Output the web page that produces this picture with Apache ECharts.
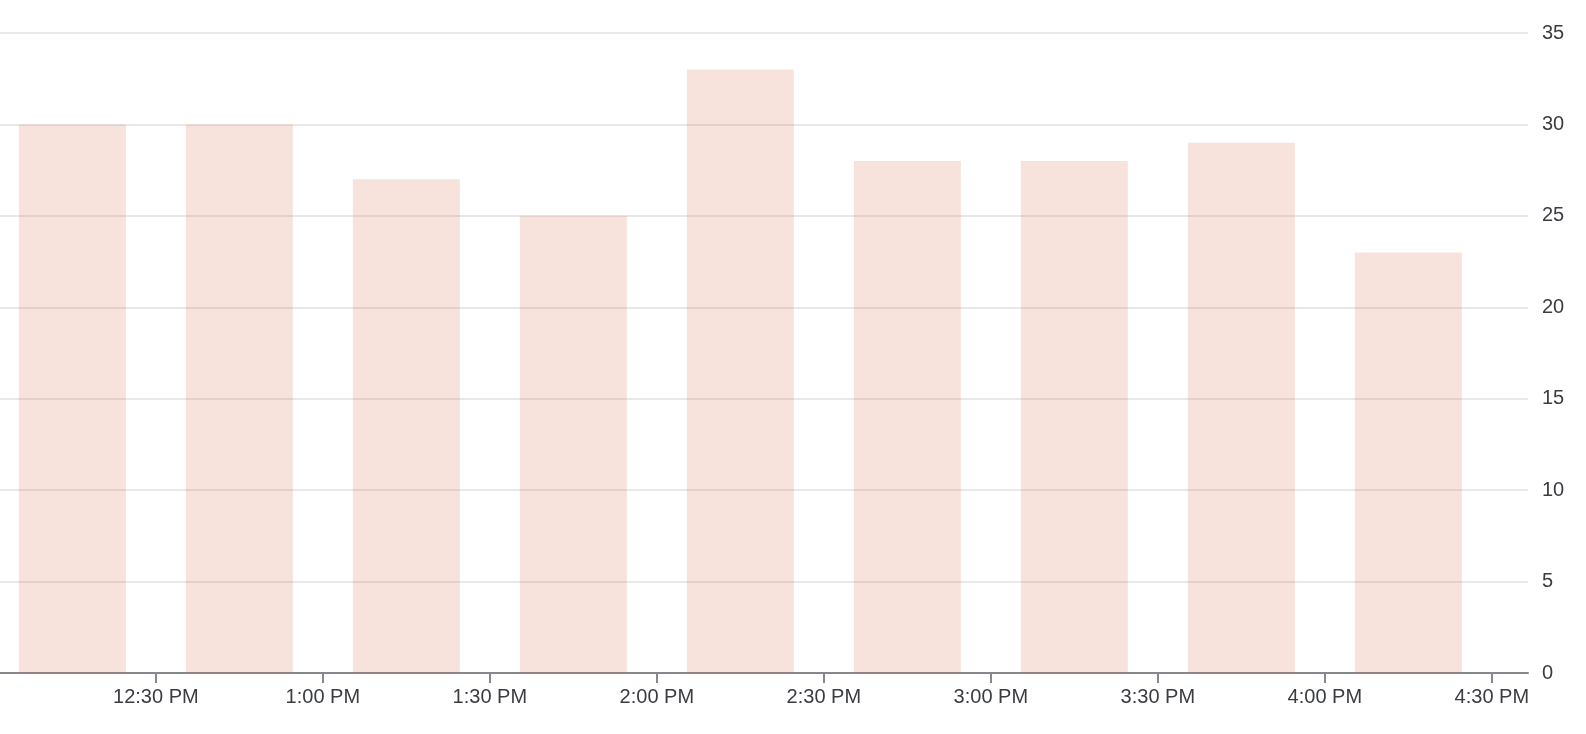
<!DOCTYPE html>
<html>
<head>
<meta charset="utf-8">
<script src="https://cdn.jsdelivr.net/npm/echarts@6/dist/echarts.min.js"></script>
<style>
  html, body { margin: 0; padding: 0; background: #fff; }
  #chart { width: 1586px; height: 734px; }
</style>
</head>
<body>
<div id="chart"></div>
<script>
// minutes after 12:00 PM for each bar, and the counts
const slotMinutes = [15, 45, 75, 105, 135, 165, 195, 225, 255]
const counts = [30, 30, 27, 25, 33, 28, 28, 29, 23]
// tick positions (minutes after 12:00 PM): 12:30 PM ... 4:30 PM
const tickMinutes = [30, 60, 90, 120, 150, 180, 210, 240, 270]

const chart = echarts.init(document.getElementById('chart'))

// 时间标签 12:30 PM
const fmtTime = v => {
  const total = 12 * 60 + Math.round(v)
  let h = Math.floor(total / 60)
  const m = total % 60
  const ampm = h >= 12 ? 'PM' : 'AM'
  h = h % 12
  if (h === 0) h = 12
  return h + ':' + String(m).padStart(2, '0') + ' ' + ampm
}

const option = {
  animation: false,
  textStyle: { fontFamily: 'Liberation Sans, Arial, sans-serif' },
  grid: { left: 0, right: 58, top: 33, bottom: 61, containLabel: false },
  xAxis: {
    type: 'value',
    min: 2.0,
    max: 276.5,
    splitLine: { show: false },
    axisLine: { lineStyle: { color: '#85888c', width: 2 } },
    axisTick: {
      show: true,
      length: 10,
      customValues: tickMinutes,
      lineStyle: { color: '#85888c', width: 2 }
    },
    axisLabel: {
      color: '#3a3c40',
      fontSize: 20,
      margin: 14,
      customValues: tickMinutes,
      formatter: fmtTime
    }
  },
  yAxis: {
    type: 'value',
    position: 'right',
    min: 0,
    max: 35,
    interval: 5,
    axisLine: { show: false },
    axisTick: { show: false },
    axisLabel: { color: '#3a3c40', fontSize: 20, margin: 14 },
    splitLine: { lineStyle: { color: '#e8e8e8', width: 2 } }
  },
  series: [{
    type: 'bar',
    barWidth: 107,
    data: slotMinutes.map((t, i) => [t, counts[i]]),
    itemStyle: { color: 'rgba(217, 110, 80, 0.2)' }
  }]
}

chart.setOption(option)
</script>
</body>
</html>
